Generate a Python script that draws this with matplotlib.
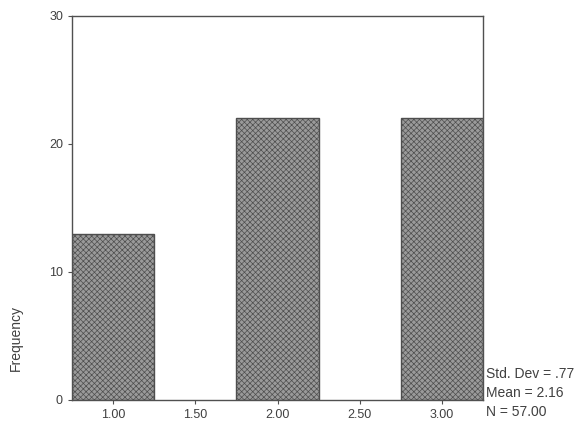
import numpy as np
import matplotlib.pyplot as plt

plt.rcParams['font.family'] = ['Liberation Sans', 'DejaVu Sans']
plt.rcParams['hatch.linewidth'] = 0.5

# histogram of a 3-level variable
bin_centres = [1.0, 2.0, 3.0]
counts = [13, 22, 22]
bar_width = 0.5
x_ticks = [1.0, 1.5, 2.0, 2.5, 3.0]
x_tick_labels = ['1.00', '1.50', '2.00', '2.50', '3.00']
y_ticks = [0, 10, 20, 30]
stats = ['Std. Dev = .77', 'Mean = 2.16', 'N = 57.00']

txt = '#404040'
line = '#505050'

fig = plt.figure(figsize=(5.82, 4.25), dpi=100)
ax = fig.add_axes([72/582, 1 - 400/425, 411/582, 384/425])

ax.bar(bin_centres, counts, width=bar_width, color='#9a9a9a', edgecolor='#4e4e4e',
       hatch='xxxxxx', linewidth=1.0)

ax.set_xlim(0.75, 3.25)
ax.set_ylim(0, 30)
ax.set_xticks(x_ticks)
ax.set_xticklabels(x_tick_labels)
ax.set_yticks(y_ticks)
ax.tick_params(axis='both', colors=line, labelcolor=txt, labelsize=9, length=3, width=0.8)
for s in ax.spines.values():
    s.set_color(line)
    s.set_linewidth(1.0)

fig.text(16/582, 1 - 338/425, 'Frequency', rotation=90, ha='center', va='center',
         fontsize=10, color=txt)

for i, s in enumerate(stats):
    fig.text(486/582, 1 - (374 + i * 19)/425, s, ha='left', va='center',
             fontsize=10, color=txt)

fig.savefig('out.png', dpi=100)
